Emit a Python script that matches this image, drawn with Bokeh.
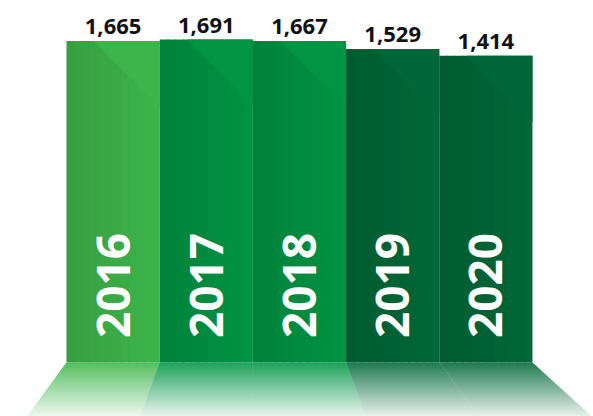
import numpy as np
from bokeh.plotting import figure
from bokeh.models import Range1d
from bokeh.core.properties import value
from bokeh.embed import file_html
from bokeh.resources import INLINE

# ---- data ----
years = ["2016", "2017", "2018", "2019", "2020"]
values = [1665, 1691, 1667, 1529, 1414]
labels = ["1,665", "1,691", "1,667", "1,529", "1,414"]
dark_colors = ["#379e41", "#00813b", "#00813b", "#005c30", "#005c30"]
light_colors = ["#3db54a", "#009444", "#009444", "#006838", "#006838"]

# ---- layout ----
W, H = 593, 416
X0, X1 = -1.208, 5.155
Y0, Y1 = -4763.0, 2360.0
px_x = W / (X1 - X0)
px_y = H / (Y1 - Y0)


def y_at(px_from_top):
    return Y1 - px_from_top / px_y


base = y_at(362)


def hex2rgb(h):
    h = h.lstrip("#")
    return tuple(int(h[i:i + 2], 16) for i in (0, 2, 4))


def mix(c1, c2, t):
    a, b = hex2rgb(c1), hex2rgb(c2)
    return "#%02x%02x%02x" % tuple(int(round(a[k] + (b[k] - a[k]) * t)) for k in range(3))


p = figure(width=W, height=H, x_range=Range1d(X0, X1), y_range=Range1d(Y0, Y1),
           output_backend="svg", toolbar_location=None, min_border=0,
           outline_line_color=None, background_fill_color="white",
           border_fill_color="white")
p.axis.visible = False
p.grid.visible = False

idx = list(range(len(values)))

# ---- reflections (floor) ----
cx = 1.5
kk = 0.2 / 51.0
rx, ry, rc = [], [], []
step = 2
for i in idx:
    xl, xr = i - 0.5, i + 0.5
    for d in range(0, 58, step):
        d2 = d + step + 1
        f1, f2 = 1 + kk * d, 1 + kk * d2
        xs = [cx + (xl - cx) * f1, cx + (xr - cx) * f1, cx + (xr - cx) * f2, cx + (xl - cx) * f2]
        ys = [y_at(362 + d), y_at(362 + d), y_at(362 + d2), y_at(362 + d2)]
        a = max(0.05, 0.88 - 0.8 * ((d + 1) / 54.0))
        rx.append(xs)
        ry.append(ys)
        rc.append(mix("#ffffff", light_colors[i], a))
p.patches(xs=rx, ys=ry, fill_color=rc, line_color=None)

# ---- bars with horizontal gradient ----
N = 12
ovl = 1.0 / px_x
ql, qr, qt, qb, qc = [], [], [], [], []
for i in idx:
    for k in range(N):
        ql.append(i - 0.5 + k / N)
        qr.append(min(i + 0.5, i - 0.5 + (k + 1) / N + ovl))
        qt.append(values[i])
        qb.append(base)
        qc.append(mix(dark_colors[i], light_colors[i], (k + 0.5) / N))
p.quad(left=ql, right=qr, top=qt, bottom=qb, fill_color=qc, line_color=None)

# ---- diagonal light facets ----
tx, ty, tc = [], [], []
off = 27.0 / px_x
drop = (px_x - 27.0) / px_y
for i in idx:
    tx.append([i - 0.5 + off, i + 0.5, i + 0.5])
    ty.append([values[i], values[i], values[i] - drop])
    tc.append(light_colors[i])
p.patches(xs=tx, ys=ty, fill_color=tc, line_color=None)

# ---- value labels ----
lab_y = [v + 7.0 / px_y for v in values]
p.text(x=idx, y=lab_y, text=labels, text_font=value("Open Sans"),
       text_font_style="bold", text_font_size="22px", text_align="center",
       text_baseline="bottom", text_color="#111111")

# ---- year labels ----
p.text(x=idx, y=[y_at(285)] * len(idx), text=years, angle=np.pi / 2,
       text_font=value("Open Sans"), text_font_style="bold",
       text_font_size="46px", text_align="center", text_baseline="middle",
       text_color="white")

open("out.html", "w").write(file_html(p, INLINE))
